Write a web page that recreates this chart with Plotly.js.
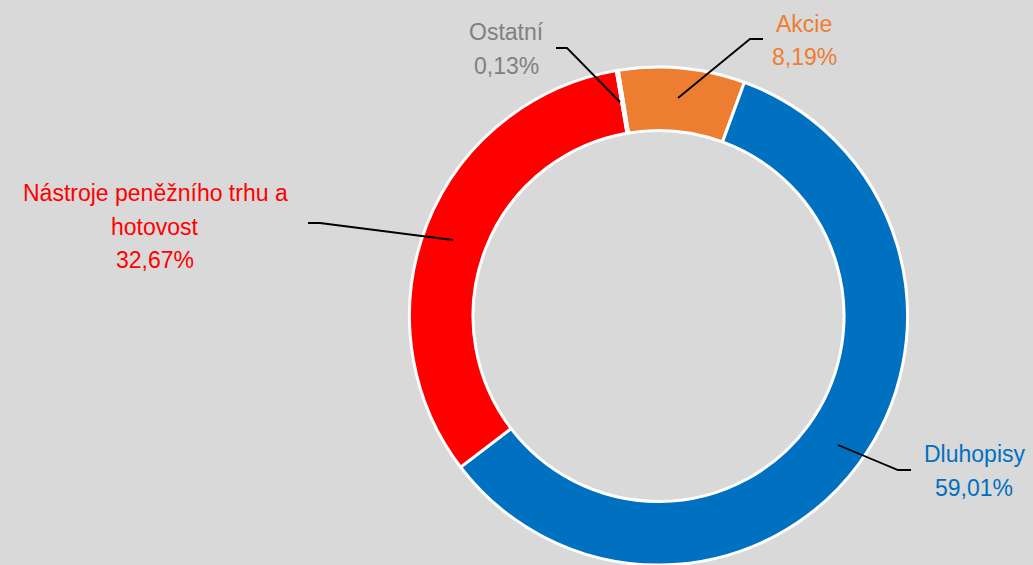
<!DOCTYPE html>
<html>
<head>
<meta charset="utf-8">
<script src="https://cdn.plot.ly/plotly-3.0.1.min.js"></script>
<style>
html,body{margin:0;padding:0;background:#d9d9d9;overflow:hidden;}
#chart{width:1033px;height:565px;}
</style>
</head>
<body>
<div id="chart"></div>
<script>
// Data
var categories = ["Akcie", "Dluhopisy", "Nástroje peněžního trhu a hotovost", "Ostatní"];
var shares = [8.19, 59.01, 32.67, 0.13];
var sliceColors = ["#ed7d31", "#0070c0", "#ff0000", "#a5a5a5"];
var labelColors = ["#ed7d31", "#0070c0", "#ff0000", "#808080"];
// label lines (text wrapping as in the original)
var labelLines = [["Akcie"], ["Dluhopisy"], ["Nástroje peněžního trhu a", "hotovost"], ["Ostatní"]];

var W = 1033, H = 565;
function fx(p){ return p / W; }
function fy(p){ return 1 - p / H; }
function pct(v){ return v.toFixed(2).replace('.', ',') + '%'; }

// label layout (pixel centres of each text line) and leader line points
var labelPos = [
  {x: 804, ys: [24, 57]},
  {x: 974, ys: [454, 488]},
  {x: 155, ys: [193, 227, 260]},
  {x: 506, ys: [32, 66]}
];
var leaders = [
  [[763, 39], [750, 39], [678, 98]],
  [[911, 470], [898, 470], [838, 445]],
  [[308, 223], [320, 223], [453, 240]],
  [[556, 48], [567, 48], [620, 102]]
];

var annotations = [];
var shapes = [];
for (var i = 0; i < categories.length; i++) {
  var lines = labelLines[i].concat([pct(shares[i])]);
  for (var j = 0; j < lines.length; j++) {
    annotations.push({
      xref: 'paper', yref: 'paper',
      x: fx(labelPos[i].x), y: fy(labelPos[i].ys[j]),
      xanchor: 'center', yanchor: 'middle',
      text: lines[j], showarrow: false,
      font: {family: 'Liberation Sans, Arial, sans-serif', size: 23, color: labelColors[i]}
    });
  }
  var pts = leaders[i];
  var path = 'M ' + fx(pts[0][0]) + ' ' + fy(pts[0][1]);
  for (var k = 1; k < pts.length; k++) path += ' L ' + fx(pts[k][0]) + ' ' + fy(pts[k][1]);
  shapes.push({type: 'path', xref: 'paper', yref: 'paper', path: path,
    line: {color: '#000000', width: 1.8}});
}

var trace = {
  type: 'pie',
  labels: categories,
  values: shares,
  sort: false,
  direction: 'clockwise',
  rotation: -9.3,
  hole: 0.745,
  textinfo: 'none',
  hoverinfo: 'label+percent',
  marker: {colors: sliceColors, line: {color: '#ffffff', width: 3}},
  domain: {x: [fx(409.5), fx(907.5)], y: [0, fy(67)]},
  showlegend: false
};

var layout = {
  width: W, height: H,
  margin: {l: 0, r: 0, t: 0, b: 0},
  paper_bgcolor: '#d9d9d9',
  plot_bgcolor: '#d9d9d9',
  showlegend: false,
  annotations: annotations,
  shapes: shapes
};

Plotly.newPlot('chart', [trace], layout, {displayModeBar: false, staticPlot: true});
</script>
</body>
</html>
